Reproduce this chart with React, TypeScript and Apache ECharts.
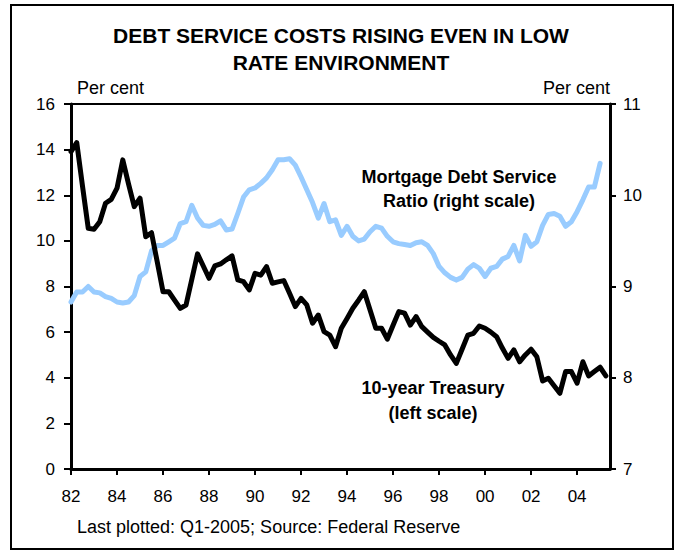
import React, { useEffect, useRef } from "react";
import * as echarts from "echarts";

// Quarterly data starting Q1 1982
const START_YEAR = 1982;

// 10-year Treasury yield, per cent (left scale), quarterly from Q1 1982
const treasury10y = [
  13.91, 14.31, 12.4, 10.55, 10.51, 10.84, 11.65, 11.82, 12.31, 13.55,
  12.5, 11.5, 11.87, 10.18, 10.36, 9.07, 7.77, 7.77, 7.4, 7.04,
  7.19, 8.31, 9.43, 8.9, 8.36, 8.9, 8.99, 9.17, 9.34, 8.29,
  8.21, 7.85, 8.58, 8.5, 8.87, 8.14, 8.2, 8.26, 7.7, 7.12,
  7.48, 7.19, 6.39, 6.75, 6.02, 5.87, 5.36, 6.17, 6.6, 7.05,
  7.4, 7.77, 6.97, 6.17, 6.17, 5.69, 6.3, 6.9, 6.83, 6.31,
  6.68, 6.24, 6.0, 5.77, 5.6, 5.44, 5.0, 4.63, 5.25, 5.87,
  5.95, 6.27, 6.17, 6.0, 5.8, 5.3, 4.85, 5.22, 4.7, 5.0,
  5.25, 4.92, 3.86, 3.98, 3.65, 3.32, 4.27, 4.27, 3.76, 4.7,
  4.08, 4.27, 4.46, 4.08,
];

// Mortgage debt service ratio, per cent (right scale), quarterly from Q1 1982
const mortgageDSR = [
  8.83, 8.94, 8.94, 9.0, 8.94, 8.93, 8.89, 8.87, 8.83, 8.82,
  8.83, 8.9, 9.11, 9.16, 9.39, 9.45, 9.45, 9.49, 9.53, 9.69,
  9.71, 9.89, 9.75, 9.67, 9.66, 9.68, 9.72, 9.62, 9.63, 9.8,
  9.98, 10.06, 10.08, 10.13, 10.19, 10.28, 10.39, 10.39, 10.4, 10.33,
  10.2, 10.06, 9.92, 9.75, 9.91, 9.71, 9.73, 9.56, 9.66, 9.55,
  9.5, 9.52, 9.6, 9.66, 9.64, 9.55, 9.49, 9.47, 9.46, 9.45,
  9.48, 9.49, 9.45, 9.36, 9.22, 9.15, 9.1, 9.07, 9.1, 9.19,
  9.24, 9.2, 9.11, 9.2, 9.22, 9.3, 9.33, 9.45, 9.28, 9.56,
  9.44, 9.49, 9.67, 9.79, 9.8, 9.77, 9.66, 9.71, 9.82, 9.95,
  10.09, 10.09, 10.35,
];

const titleLines = ["DEBT SERVICE COSTS RISING EVEN IN LOW", "RATE ENVIRONMENT"];
const leftUnit = "Per cent";
const rightUnit = "Per cent";
const mortgageLabel = ["Mortgage Debt Service", "Ratio (right scale)"];
const treasuryLabel = ["10-year Treasury", "(left scale)"];
const footer = "Last plotted: Q1-2005; Source: Federal Reserve";

const FONT = "'Liberation Sans', Arial, Helvetica, sans-serif";

export default function App() {
  const ref = useRef<HTMLDivElement>(null);

  useEffect(() => {
    if (!ref.current) return;
    const chart = echarts.init(ref.current, undefined, { renderer: "svg" });

    const tData = treasury10y.map((v, i) => [START_YEAR + i / 4, v]);
    const mData = mortgageDSR.map((v, i) => [START_YEAR + i / 4, v]);

    chart.setOption({
      animation: false,
      backgroundColor: "#fff",
      textStyle: { fontFamily: FONT },
      title: {
        text: titleLines.join("\n"),
        left: "center",
        top: 22,
        padding: 0,
        textStyle: {
          fontFamily: FONT,
          fontSize: 21,
          fontWeight: "bold",
          color: "#000",
          lineHeight: 27,
        },
      },
      grid: {
        left: 71,
        right: 72,
        top: 104,
        bottom: 88,
        show: true,
        borderColor: "#000",
        borderWidth: 2,
        backgroundColor: "transparent",
      },
      xAxis: {
        type: "value",
        min: 1982,
        max: 2005.43,
        interval: 2,
        splitLine: { show: false },
        axisLine: { show: true, lineStyle: { color: "#000", width: 3 } },
        axisTick: { show: true, length: 6, lineStyle: { color: "#000", width: 2 } },
        axisLabel: {
          margin: 19,
          fontSize: 17,
          color: "#000",
          fontFamily: FONT,
          showMaxLabel: false,
          formatter: (v: number) =>
            Number.isInteger(v) ? String(v % 100).padStart(2, "0") : "",
        },
      },
      yAxis: [
        {
          type: "value",
          min: 0,
          max: 16,
          interval: 2,
          position: "left",
          splitLine: { show: false },
          axisLine: { show: true, lineStyle: { color: "#000", width: 3 } },
          axisTick: { show: true, length: 7, lineStyle: { color: "#000", width: 2 } },
          axisLabel: { margin: 16, fontSize: 17, color: "#000", fontFamily: FONT },
        },
        {
          type: "value",
          min: 7,
          max: 11,
          interval: 1,
          position: "right",
          splitLine: { show: false },
          axisLine: { show: true, lineStyle: { color: "#000", width: 3 } },
          axisTick: { show: true, length: 6, lineStyle: { color: "#000", width: 2 } },
          axisLabel: { margin: 13, fontSize: 17, color: "#000", fontFamily: FONT },
        },
      ],
      series: [
        {
          name: "Mortgage Debt Service Ratio",
          type: "line",
          yAxisIndex: 1,
          data: mData,
          showSymbol: false,
          symbol: "none",
          lineStyle: { color: "#99CCFF", width: 5, cap: "round", join: "round" },
          itemStyle: { color: "#99CCFF" },
          z: 2,
        },
        {
          name: "10-year Treasury",
          type: "line",
          yAxisIndex: 0,
          data: tData,
          showSymbol: false,
          symbol: "none",
          lineStyle: { color: "#000", width: 5, cap: "round", join: "round" },
          itemStyle: { color: "#000" },
          z: 3,
        },
      ],
      graphic: [
        {
          type: "rect",
          shape: { x: 11, y: 5, width: 662, height: 544 },
          style: { fill: "none", stroke: "#000", lineWidth: 2 },
          silent: true,
        },
        {
          type: "text",
          x: 77,
          y: 88,
          style: {
            text: leftUnit,
            fontFamily: FONT,
            fontSize: 18,
            fill: "#000",
            textAlign: "left",
            textVerticalAlign: "middle",
          },
        },
        {
          type: "text",
          x: 610,
          y: 88,
          style: {
            text: rightUnit,
            fontFamily: FONT,
            fontSize: 18,
            fill: "#000",
            textAlign: "right",
            textVerticalAlign: "middle",
          },
        },
        {
          type: "text",
          x: 459,
          y: 189,
          style: {
            text: mortgageLabel.join("\n"),
            fontFamily: FONT,
            fontSize: 18,
            fontWeight: "bold",
            lineHeight: 24,
            fill: "#000",
            textAlign: "center",
            textVerticalAlign: "middle",
          },
        },
        {
          type: "text",
          x: 433,
          y: 400,
          style: {
            text: treasuryLabel.join("\n"),
            fontFamily: FONT,
            fontSize: 18,
            fontWeight: "bold",
            lineHeight: 25,
            fill: "#000",
            textAlign: "center",
            textVerticalAlign: "middle",
          },
        },
        {
          type: "text",
          x: 77,
          y: 527,
          style: {
            text: footer,
            fontFamily: FONT,
            fontSize: 18,
            fill: "#000",
            textAlign: "left",
            textVerticalAlign: "middle",
          },
        },
      ],
    });

    return () => chart.dispose();
  }, []);

  return (
    <div
      ref={ref}
      style={{ position: "absolute", left: 0, top: 0, width: 682, height: 557 }}
    />
  );
}
